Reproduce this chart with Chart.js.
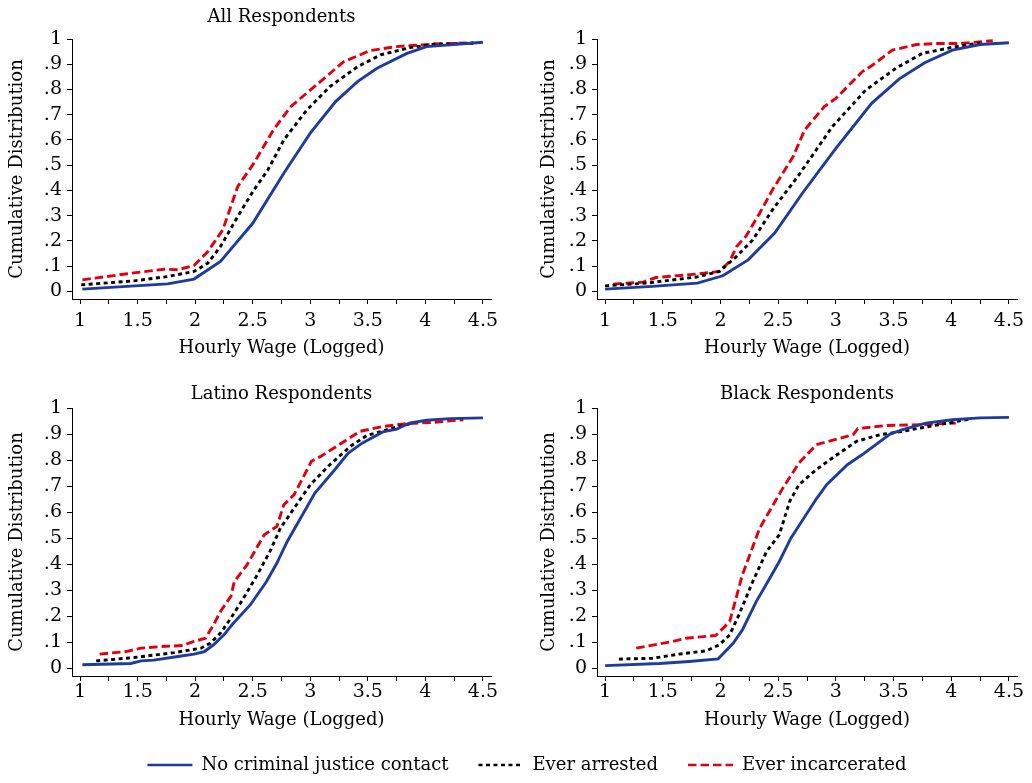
<!DOCTYPE html>
<html>
<head>
<meta charset="utf-8">
<script src="https://cdn.jsdelivr.net/npm/chart.js@4.4.1/dist/chart.umd.min.js"></script>
<style>
  body { margin: 0; background: #fff; width: 1032px; height: 783px; position: relative; overflow: hidden; }
  canvas { position: absolute; }
</style>
</head>
<body>
<canvas id="c1" width="516" height="370" style="left:0;top:0"></canvas>
<canvas id="c2" width="500" height="370" style="left:532px;top:0"></canvas>
<canvas id="c3" width="516" height="360" style="left:0;top:375px"></canvas>
<canvas id="c4" width="500" height="360" style="left:532px;top:375px"></canvas>
<canvas id="leg" width="1032" height="170" style="left:11px;top:726px"></canvas>
<script>
// tick values + labels
const xTicks = [1, 1.25, 1.5, 1.75, 2, 2.25, 2.5, 2.75, 3, 3.25, 3.5, 3.75, 4, 4.25, 4.5];
const xTickLabels = ['1', '', '1.5', '', '2', '', '2.5', '', '3', '', '3.5', '', '4', '', '4.5'];
const yTicks = [0, .1, .2, .3, .4, .5, .6, .7, .8, .9, 1];
const yTickLabels = ['0', '.1', '.2', '.3', '.4', '.5', '.6', '.7', '.8', '.9', '1'];

const seriesNames = ['No criminal justice contact', 'Ever arrested', 'Ever incarcerated'];

// [logged wage, cumulative share]
// All respondents
const allNone = [[1.02,.009],[1.76,.03],[1.99,.049],[2.22,.119],[2.5,.27],[2.77,.468],[3.0,.627],[3.22,.752],[3.41,.831],[3.58,.884],[3.84,.943],[4.01,.97],[4.5,.987]];
const allArrest = [[1.01,.026],[1.47,.042],[1.76,.059],[1.99,.079],[2.11,.112],[2.22,.178],[2.37,.297],[2.51,.402],[2.63,.48],[2.77,.6],[2.97,.719],[3.17,.811],[3.41,.89],[3.61,.937],[3.87,.966],[4.07,.979],[4.42,.983]];
const allPrison = [[1.02,.046],[1.41,.07],[1.73,.088],[1.85,.086],[1.99,.103],[2.11,.158],[2.24,.244],[2.37,.416],[2.51,.508],[2.68,.64],[2.83,.732],[3.03,.809],[3.29,.91],[3.52,.954],[3.75,.97],[3.95,.976],[4.07,.98],[4.42,.985]];

// second panel (untitled)
const p2None = [[1.0,.009],[1.41,.02],[1.8,.033],[2.02,.062],[2.24,.125],[2.47,.231],[2.71,.389],[3.0,.567],[3.31,.745],[3.55,.842],[3.77,.906],[4.01,.956],[4.25,.978],[4.5,.985]];
const p2Arrest = [[1.0,.022],[1.36,.033],[1.79,.057],[1.99,.079],[2.14,.139],[2.28,.204],[2.45,.323],[2.68,.462],[2.97,.653],[3.26,.798],[3.52,.884],[3.75,.943],[4.01,.967],[4.25,.985]];
const p2Prison = [[1.07,.029],[1.33,.037],[1.44,.055],[1.82,.07],[1.99,.079],[2.08,.119],[2.14,.178],[2.22,.218],[2.34,.31],[2.45,.402],[2.54,.468],[2.63,.534],[2.73,.64],[2.9,.732],[3.0,.765],[3.23,.871],[3.32,.897],[3.49,.956],[3.7,.978],[3.87,.982],[4.07,.982],[4.36,.993]];

// Latino respondents
const latNone = [[1.02,.013],[1.44,.018],[1.53,.028],[1.64,.031],[1.85,.045],[1.99,.054],[2.08,.064],[2.16,.09],[2.25,.128],[2.32,.167],[2.48,.244],[2.62,.333],[2.71,.404],[2.8,.487],[3.04,.673],[3.2,.756],[3.33,.827],[3.45,.865],[3.63,.908],[3.75,.919],[3.86,.942],[4.01,.953],[4.21,.959],[4.5,.962]];
const latArrest = [[1.14,.028],[1.47,.041],[1.82,.06],[2.05,.077],[2.13,.096],[2.22,.135],[2.31,.192],[2.42,.269],[2.54,.359],[2.65,.449],[2.74,.538],[2.86,.615],[3.0,.705],[3.17,.782],[3.35,.853],[3.49,.894],[3.72,.923],[3.89,.942]];
const latPrison = [[1.17,.054],[1.4,.064],[1.53,.077],[1.7,.083],[1.89,.087],[1.99,.103],[2.09,.115],[2.16,.167],[2.22,.218],[2.31,.276],[2.34,.333],[2.45,.397],[2.6,.513],[2.71,.545],[2.77,.628],[2.86,.667],[3.01,.795],[3.09,.814],[3.23,.853],[3.43,.91],[3.63,.929],[3.84,.94],[4.07,.945],[4.33,.955]];

// Black respondents
const blkNone = [[1.0,.01],[1.47,.018],[1.73,.026],[1.98,.036],[2.11,.096],[2.19,.147],[2.31,.256],[2.42,.34],[2.51,.41],[2.61,.5],[2.83,.65],[2.92,.705],[3.1,.782],[3.23,.821],[3.47,.9],[3.58,.917],[3.78,.942],[4.01,.955],[4.25,.962],[4.5,.964]];
const blkArrest = [[1.12,.035],[1.41,.038],[1.64,.054],[1.88,.067],[1.99,.09],[2.08,.128],[2.16,.205],[2.28,.333],[2.4,.449],[2.51,.513],[2.6,.641],[2.68,.705],[2.83,.763],[2.97,.808],[3.18,.872],[3.38,.897],[3.55,.908],[3.73,.923],[4.01,.945],[4.16,.958]];
const blkPrison = [[1.27,.077],[1.59,.103],[1.7,.115],[1.96,.126],[2.08,.179],[2.19,.359],[2.34,.538],[2.54,.692],[2.68,.788],[2.83,.859],[3.15,.897],[3.19,.921],[3.44,.933],[3.73,.936],[4.04,.942]];

const FONT = 'DejaVu Serif';
const lineColors = ['#1d3c9c', '#000000', '#e2000e'];
const lineDash = [[], [4, 3.5], [8.5, 4]];

function makePanel(id, title, series, lay) {
  const font = { family: FONT, size: 18, weight: 'normal', lineHeight: 1.2 };
  const tickFont = { family: FONT, size: 19, weight: 'normal', lineHeight: 1.2 };
  new Chart(document.getElementById(id), {
    type: 'line',
    data: {
      datasets: series.map((s, i) => ({
        label: seriesNames[i],
        data: s.map(p => ({ x: p[0], y: p[1] })),
        borderColor: lineColors[i],
        borderDash: lineDash[i],
        borderWidth: 2.9,
        pointRadius: 0,
        tension: 0,
        fill: false
      }))
    },
    options: {
      responsive: false,
      animation: false,
      events: [],
      layout: { padding: { top: lay.padTop, right: lay.padRight, left: 0, bottom: 0 } },
      plugins: {
        legend: { display: false },
        tooltip: { enabled: false },
        title: {
          display: !!title, text: title, fullSize: false, color: '#000',
          font: font, padding: { top: lay.titleTop, bottom: lay.titleBottom }
        }
      },
      scales: {
        x: {
          type: 'linear', min: 0.93, max: 4.57,
          afterBuildTicks: s => { s.ticks = xTicks.map(v => ({ value: v })); },
          afterFit: s => { s.height = lay.xh; },
          ticks: {
            autoSkip: false, maxRotation: 0, color: '#000', font: tickFont, padding: lay.xPad,
            callback: (v, i) => xTickLabels[i]
          },
          grid: { drawOnChartArea: false, color: '#000', tickLength: 5, tickWidth: 1 },
          border: { display: true, color: '#000', width: 1 },
          title: { display: true, text: 'Hourly Wage (Logged)', color: '#000', font: font, padding: { top: 0, bottom: lay.xTitleBottom } }
        },
        y: {
          type: 'linear', min: -0.03, max: 1,
          afterBuildTicks: s => { s.ticks = yTicks.map(v => ({ value: v })); },
          afterFit: s => { s.width = lay.yw; },
          ticks: {
            autoSkip: false, color: '#000', font: tickFont, padding: 5,
            callback: (v, i) => yTickLabels[i]
          },
          grid: { drawOnChartArea: false, color: '#000', tickLength: 5, tickWidth: 1 },
          border: { display: true, color: '#000', width: 1 },
          title: { display: true, text: 'Cumulative Distribution', color: '#000', font: font, padding: { top: 7, bottom: 0 } }
        }
      }
    }
  });
}

const topLay = { padTop: 0, padRight: 25, titleTop: 7, titleBottom: 10.4, xh: 71, xPad: 6, xTitleBottom: 11, yw: 72 };
makePanel('c1', 'All Respondents', [allNone, allArrest, allPrison], topLay);
makePanel('c2', '', [p2None, p2Arrest, p2Prison], Object.assign({}, topLay, { padTop: 39, padRight: 15, yw: 65 }));
const botLay = { padTop: 0, padRight: 25, titleTop: 9, titleBottom: 2.4, xh: 59, xPad: 0, xTitleBottom: 4, yw: 72 };
makePanel('c3', 'Latino Respondents', [latNone, latArrest, latPrison], botLay);
makePanel('c4', 'Black Respondents', [blkNone, blkArrest, blkPrison], Object.assign({}, botLay, { padRight: 15, yw: 65 }));

// shared legend, its own chart with empty datasets
new Chart(document.getElementById('leg'), {
  type: 'line',
  data: {
    datasets: seriesNames.map((n, i) => ({
      label: n, data: [], borderColor: lineColors[i], borderDash: lineDash[i],
      borderWidth: 2.5, pointStyle: 'line'
    }))
  },
  options: {
    responsive: false,
    animation: false,
    events: [],
    layout: { padding: 0 },
    scales: { x: { display: false }, y: { display: false } },
    plugins: {
      tooltip: { enabled: false },
      legend: {
        position: 'top',
        labels: {
          usePointStyle: true, pointStyleWidth: 45, boxHeight: 18, padding: 30,
          color: '#000', font: { family: FONT, size: 18 },
          generateLabels: chart => chart.data.datasets.map((d, i) => ({
            text: d.label, datasetIndex: i, hidden: false,
            strokeStyle: d.borderColor, fillStyle: d.borderColor,
            lineWidth: d.borderWidth, lineDash: d.borderDash, pointStyle: 'line'
          }))
        }
      }
    }
  }
});
</script>
</body>
</html>
